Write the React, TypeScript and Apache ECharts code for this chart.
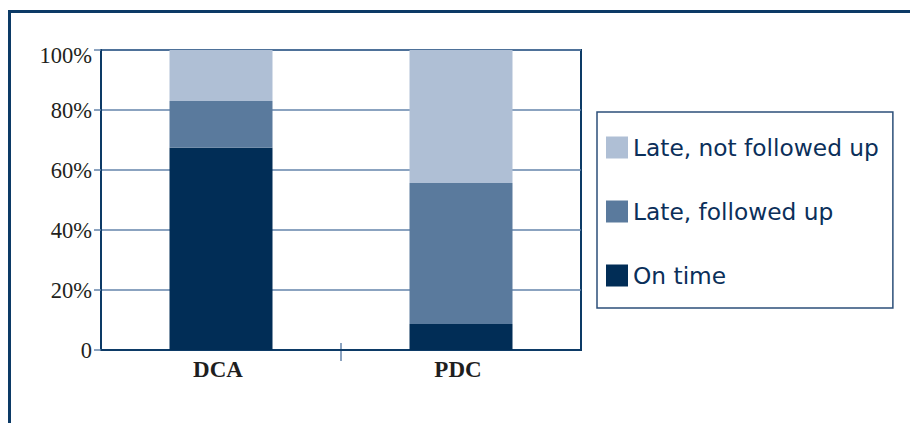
import React, { useEffect, useRef } from "react";
import * as echarts from "echarts";

const categories = ["DCA", "PDC"];
const seriesNames = ["On time", "Late, followed up", "Late, not followed up"];
const onTime = [67.4, 8.7];
const lateFollowed = [15.6, 47.0];
const lateNotFollowed = [17.0, 44.3];
const yTicks = [0, 20, 40, 60, 80, 100];

const colors = ["#012d56", "#5a7a9d", "#afbfd5"];
const navy = "#0c3a66";
const gridBlue = "#6485ab";

export default function App() {
  const ref = useRef<HTMLDivElement>(null);
  useEffect(() => {
    if (!ref.current) return;
    const chart = echarts.init(ref.current, null, { renderer: "svg" });
    const values = [onTime, lateFollowed, lateNotFollowed];
    const frame = {
      type: "rect",
      silent: true,
      shape: { x: 9.5, y: 11.5, width: 1200, height: 1200 },
      style: { fill: "none", stroke: navy, lineWidth: 3 },
    };
    chart.setOption({
      animation: false,
      backgroundColor: "#ffffff",
      grid: {
        left: 101,
        top: 50,
        right: 329,
        bottom: 73,
        show: true,
        borderColor: navy,
        borderWidth: 2,
        backgroundColor: "transparent",
      },
      legend: {
        orient: "vertical",
        left: 597,
        top: 112,
        data: [seriesNames[2], seriesNames[1], seriesNames[0]],
        icon: "rect",
        itemWidth: 22,
        itemHeight: 22,
        itemGap: 41,
        padding: [24, 14, 21, 9],
        borderColor: "#2c4f79",
        borderWidth: 1.5,
        textStyle: {
          fontFamily: "DejaVu Sans",
          fontSize: 23.3,
          lineHeight: 23,
          color: "#0b2f5a",
        },
        selectedMode: false,
      },
      xAxis: {
        type: "category",
        data: categories,
        axisLine: { show: true, lineStyle: { color: navy, width: 2 } },
        axisTick: { show: false },
        axisLabel: {
          margin: 8,
          color: "#1e1e1e",
          fontFamily: "Liberation Serif",
          fontWeight: "bold",
          fontSize: 23,
          padding: [0, 6, 0, 0],
        },
      },
      yAxis: {
        type: "value",
        min: 0,
        max: 100,
        interval: 20,
        axisLine: { show: true, lineStyle: { color: navy, width: 2 } },
        axisTick: { show: true, length: 7, lineStyle: { color: gridBlue, width: 1.5 } },
        splitLine: { show: true, lineStyle: { color: gridBlue, width: 1.5 } },
        axisLabel: {
          margin: 9,
          color: "#231f20",
          fontFamily: "Liberation Serif",
          fontSize: 22.5,
          formatter: (v: number) =>
            v === 0 ? "0" : v === 100 ? "{top|100%}" : `${v}%`,
          rich: {
            top: {
              fontFamily: "Liberation Serif",
              fontSize: 22.5,
              color: "#231f20",
              padding: [10, 0, 0, 0],
            },
          },
        },
      },
      series: seriesNames.map((name, i) => ({
        name,
        type: "bar",
        stack: "total",
        barWidth: 103,
        data: values[i],
        itemStyle: { color: colors[i] },
        emphasis: { disabled: true },
      })),
      graphic: [frame],
    });
    const x0 = chart.convertToPixel({ xAxisIndex: 0 }, categories[0]) as number;
    const x1 = chart.convertToPixel({ xAxisIndex: 0 }, categories[1]) as number;
    const yb = chart.convertToPixel({ yAxisIndex: 0 }, yTicks[0]) as number;
    const mid = (x0 + x1) / 2;
    chart.setOption({
      graphic: [
        frame,
        {
          type: "line",
          silent: true,
          shape: { x1: mid, y1: yb - 7, x2: mid, y2: yb + 11 },
          style: { stroke: gridBlue, lineWidth: 1.5 },
        },
      ],
    });
    return () => chart.dispose();
  }, []);
  return (
    <div
      ref={ref}
      style={{ position: "fixed", left: 0, top: 0, width: 910, height: 423 }}
    />
  );
}
